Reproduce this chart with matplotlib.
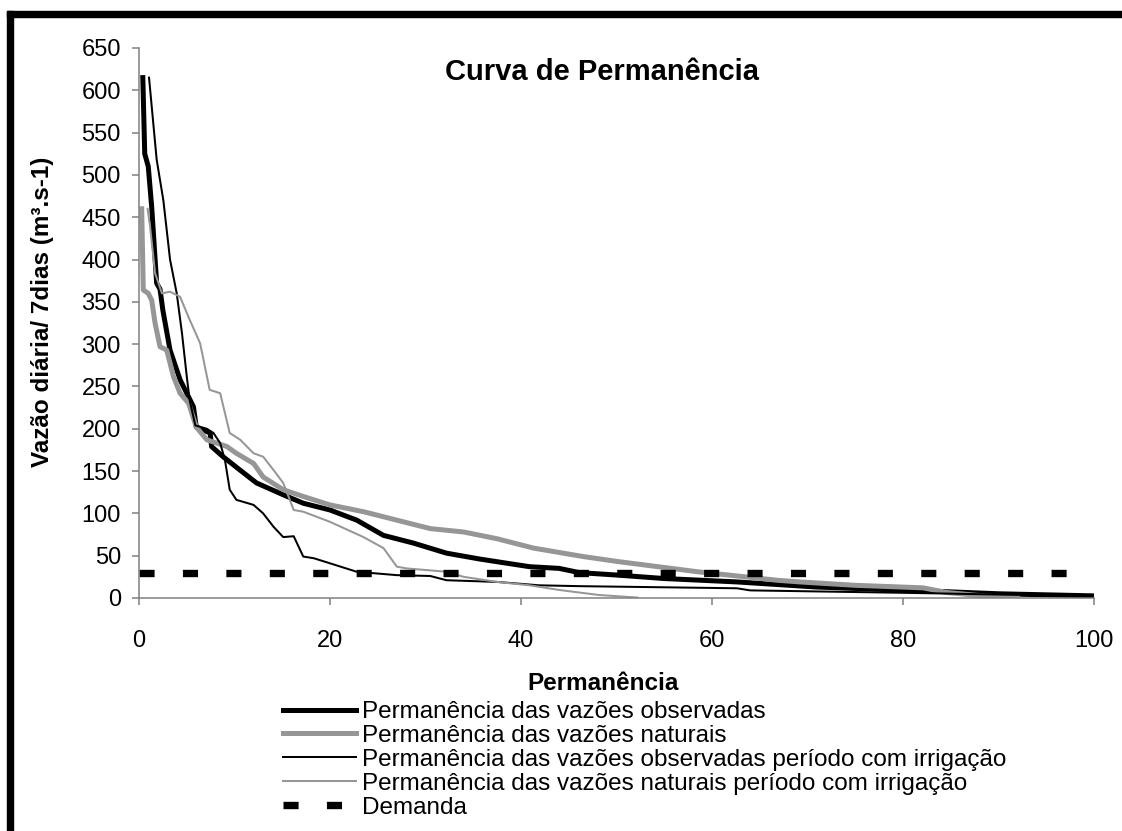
import matplotlib
matplotlib.use("Agg")
import matplotlib.pyplot as plt
from matplotlib.patches import Rectangle

plt.rcParams["font.family"] = ["Liberation Sans", "DejaVu Sans"]

# curva de permanência
obs_x = [0.4, 0.6, 0.97, 1.33, 1.85, 2.2, 2.5, 3.25, 4.3, 5.7, 6.0, 7.45, 7.6, 8.8, 10.6,
         12.3, 15.1, 17.2, 20.0, 22.8, 25.6, 28.7, 32.2, 35.7, 38.0, 40.9, 44.0, 46.1,
         50.2, 55.0, 62.6, 70.9, 79.2, 83.3, 90.0, 100.0]
obs_y = [615, 525, 510, 462, 372, 365, 340, 293, 258, 226, 202, 195, 179, 167, 151,
         136, 122, 112, 104, 92, 74, 65, 53, 46, 42, 37, 35, 30,
         27, 23, 19, 13, 9.5, 8, 5, 2.5]

nat_x = [0.28, 0.45, 0.97, 1.33, 1.68, 2.2, 2.9, 3.6, 4.3, 5.2, 6.0, 7.1, 9.2, 10.2, 12.0,
         13.0, 15.1, 17.2, 20.0, 23.5, 27.0, 30.5, 34.0, 37.5, 41.3, 46.5, 50.2, 58.5,
         66.8, 69.2, 75.0, 82.1, 84.6, 87.4, 90.0, 92.0]
nat_y = [460, 364, 360, 352, 325, 297, 293, 262, 242, 230, 202, 187, 179, 171, 159,
         143, 128, 120, 110, 102, 92, 82, 78, 70, 59, 49, 43, 31,
         21, 19, 15, 12, 6.5, 3.5, 1, 0.5]

obs_irr_x = [1.05, 1.85, 2.55, 3.25, 3.95, 4.5, 5.0, 5.3, 5.9, 7.1, 7.8, 8.5, 9.0, 9.5,
             10.2, 12.0, 13.0, 14.1, 15.1, 16.2, 17.2, 18.3, 20.0, 22.8, 27.0, 30.5,
             32.2, 37.5, 41.9, 46.1, 62.6, 64.0, 79.2, 83.3, 100.0]
obs_irr_y = [615, 518, 470, 400, 360, 313, 262, 234, 204, 200, 195, 183, 163, 128,
             116, 110, 100, 84, 72, 73, 49, 47, 41, 31, 27, 26,
             21, 19, 15, 14, 11.5, 9, 6.3, 5.5, 2]

nat_irr_x = [0.9, 1.15, 1.68, 2.4, 3.25, 4.3, 5.3, 6.4, 7.4, 8.5, 9.5, 10.6, 12.0, 13.0,
             14.1, 15.1, 16.2, 17.2, 20.0, 23.5, 25.6, 27.0, 28.0, 32.2, 34.0, 37.5,
             40.9, 44.0, 48.2, 52.2]
nat_irr_y = [460, 440, 384, 360, 362, 356, 329, 301, 246, 242, 195, 187, 171, 167,
             151, 136, 104, 102, 90, 72, 59, 37, 35, 31, 25, 19,
             15, 9.5, 3.5, 0.5]

demanda_x = [0, 100]
demanda_y = [29, 29]

labels = ["Permanência das vazões observadas",
          "Permanência das vazões naturais",
          "Permanência das vazões observadas período com irrigação",
          "Permanência das vazões naturais período com irrigação",
          "Demanda"]

cinza = "#969696"

fig = plt.figure(figsize=(11.22, 8.31), dpi=100)
ax = fig.add_axes([139 / 1122, 1 - 598 / 831, 955 / 1122, 550 / 831])

ax.plot(obs_x, obs_y, color="black", lw=3.6, label=labels[0])
ax.plot(nat_x, nat_y, color=cinza, lw=3.6, label=labels[1])
ax.plot(obs_irr_x, obs_irr_y, color="black", lw=1.45, label=labels[2])
ax.plot(nat_irr_x, nat_irr_y, color=cinza, lw=1.45, label=labels[3])
ax.plot(demanda_x, demanda_y, color="black", lw=5.3, dashes=(2.05, 3.85),
        dash_capstyle="butt", label=labels[4])

ax.set_xlim(0, 100)
ax.set_ylim(0, 650)
ax.set_xticks(range(0, 101, 20))
ax.set_yticks(range(0, 651, 50))
for s in ["top", "right"]:
    ax.spines[s].set_visible(False)
for s in ["left", "bottom"]:
    ax.spines[s].set_color("#808080")
    ax.spines[s].set_linewidth(1.1)
ax.tick_params(colors="#808080", labelcolor="black", length=5, width=1.1, labelsize=17)
ax.tick_params(axis="x", pad=18)
ax.tick_params(axis="y", pad=8)

ax.set_xlabel("Permanência", fontsize=17.5, fontweight="bold")
ax.xaxis.set_label_coords(0.486, -0.135)

fig.text(43 / 1122, 1 - 312 / 831, "Vazão diária/ 7dias (m³.s-1)", rotation=90,
         ha="center", va="center", fontsize=17.5, fontweight="bold")
fig.text(602 / 1122, 1 - 72 / 831, "Curva de Permanência", ha="center", va="center",
         fontsize=21, fontweight="bold")

ax.legend(loc="upper left", bbox_to_anchor=(283 / 1122, 1 - 701 / 831),
          bbox_transform=fig.transFigure, frameon=False, fontsize=17.5,
          borderpad=0, borderaxespad=0, handlelength=3.0, handletextpad=0.25,
          labelspacing=0.08)

# moldura preta (esquerda e topo)
fig.add_artist(Rectangle((7 / 1122, 0), 6 / 1122, 820 / 831,
                         transform=fig.transFigure, color="black"))
fig.add_artist(Rectangle((7 / 1122, 814 / 831), 1115 / 1122, 6 / 831,
                         transform=fig.transFigure, color="black"))

fig.savefig("out.png", dpi=100)
